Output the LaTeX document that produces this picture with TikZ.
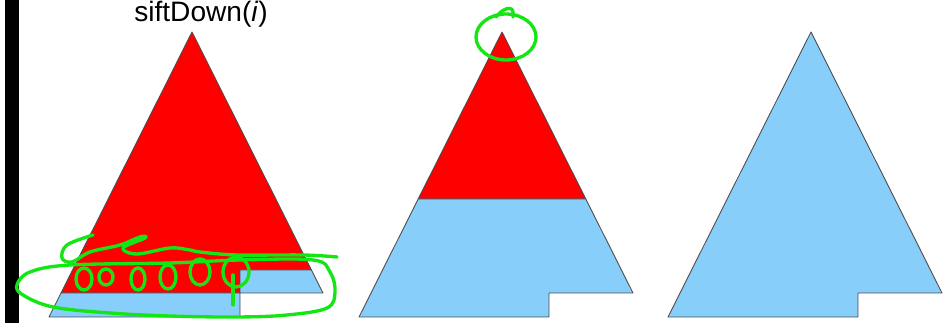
\documentclass[tikz,border=0pt]{standalone}
\usepackage{fontspec}
\setmainfont{Liberation Sans}
\definecolor{heapred}{RGB}{255,0,0}
\definecolor{heapblue}{RGB}{135,206,250}
\definecolor{penGreen}{RGB}{20,230,20}

\begin{document}
\begin{tikzpicture}[
  x=0.02cm, y=-0.02cm,
  part/.style={draw=black!70, line width=0.5pt, line join=round},
  redpart/.style={part, fill=heapred},
  bluepart/.style={part, fill=heapblue},
  pen/.style={penGreen, line width=1.9pt, line cap=round, line join=round},
]
\clip (0,0) rectangle (944,323);
\useasboundingbox (0,0) rectangle (944,323);

% left margin bar
\fill[black] (5,0) rectangle (19,323);

% title
\node[anchor=base, font=\fontsize{16}{18}\selectfont, inner sep=0pt] (title) at (201,22) {siftDown(\textit{i})};

% heap 1: sift down in progress
\draw[redpart] (192,32) -- (311.4,270) -- (240,270) -- (240,293) -- (61,293) -- cycle;
\draw[bluepart] (240,270) -- (311.4,270) -- (323,293) -- (240,293) -- cycle;
\draw[bluepart] (61,293) -- (240,293) -- (240,317) -- (49,317) -- cycle;

% heap 2: only the top left
\draw[redpart] (502,32) -- (585.8,199) -- (418.2,199) -- cycle;
\draw[bluepart] (418.2,199) -- (585.8,199) -- (633,293) -- (549,293) -- (549,317) -- (359,317) -- cycle;

% heap 3: done
\draw[bluepart] (811,32) -- (942,293) -- (858,293) -- (858,317) -- (668,317) -- cycle;

% pen notes on heap 1
\draw[pen] plot[smooth, tension=0.6] coordinates {(93,235) (67,245) (62,258) (72,262) (90,252) (120,245) (140,237) (145,238) (123,248) (137,254) (170,248) (190,250) (200,252) (237,255) (303,255) (337,257)};
\draw[pen] plot[smooth cycle, tension=0.6] coordinates {(313,260) (330,272) (335,292) (327,308) (287,315) (237,317) (170,316) (110,313) (53,307) (23,295) (17,285) (30,272) (70,265) (170,263) (240,260)};
\draw[pen] (84,279) ellipse [x radius=8, y radius=11];
\draw[pen] (106,277) ellipse [x radius=7, y radius=8];
\draw[pen] (138,279) ellipse [x radius=7, y radius=11];
\draw[pen] (168,277) ellipse [x radius=8, y radius=12];
\draw[pen] (200,272) ellipse [x radius=10, y radius=13];
\draw[pen] (236,272) ellipse [x radius=13, y radius=15];
\draw[pen] (233,275) -- (233,305);

% pen note on heap 2
\draw[pen] (506,37) ellipse [x radius=30, y radius=23];
\draw[pen] (496,17) .. controls (502,9) and (512,5) .. (513,12) -- (513,17);

\end{tikzpicture}
\end{document}
